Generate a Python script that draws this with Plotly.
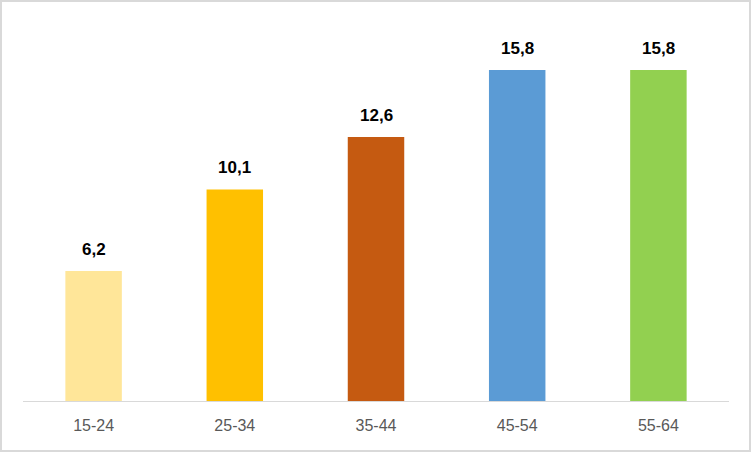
import plotly.graph_objects as go

categories = ["15-24", "25-34", "35-44", "45-54", "55-64"]
values = [6.2, 10.1, 12.6, 15.8, 15.8]
colors = ["#FFE699", "#FFC000", "#C55A11", "#5B9BD5", "#92D050"]

W, H = 751, 452
ML, MR, MT, MB = 23, 22, 20, 51
pw, ph = W - ML - MR, H - MT - MB

font_family = "Liberation Sans, Arial, sans-serif"

fig = go.Figure(go.Bar(
    x=categories, y=values,
    marker=dict(color=colors, line=dict(width=0)),
    width=0.4,
    hoverinfo="x+y",
))

for c, v in zip(categories, values):
    fig.add_annotation(
        x=c, y=v, text=f"<b>{v:.1f}</b>".replace(".", ","),
        showarrow=False, yanchor="bottom", yshift=10,
        font=dict(size=17, color="#000000", family=font_family),
    )

fig.update_layout(
    width=W, height=H,
    margin=dict(l=ML, r=MR, t=MT, b=MB),
    paper_bgcolor="white", plot_bgcolor="white",
    separators=", ",
    showlegend=False,
    xaxis=dict(showline=True, linecolor="#D9D9D9", linewidth=1, ticks="",
               tickfont=dict(size=16, color="#595959", family=font_family),
               ticklabelstandoff=10, showgrid=False),
    yaxis=dict(visible=False, range=[0, ph / (331 / 15.8)], showgrid=False, zeroline=False),
    shapes=[dict(type="rect", xref="paper", yref="paper",
                 x0=(1 - ML) / pw, x1=(W - 1 - ML) / pw,
                 y0=-(MB - 1) / ph, y1=(ph + MT - 1) / ph,
                 line=dict(color="#D9D9D9", width=2), layer="below")],
)

fig.write_html("out.html", config={"displayModeBar": False},
               post_script="document.body.style.margin='0';")
